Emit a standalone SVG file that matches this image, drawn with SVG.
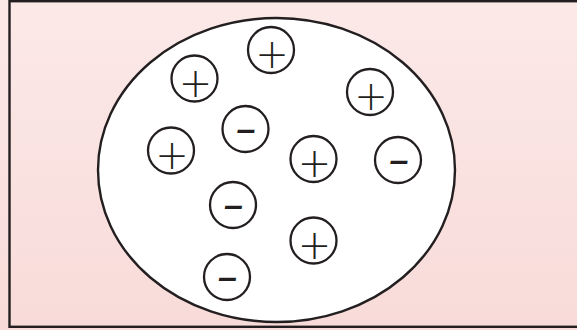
<svg xmlns="http://www.w3.org/2000/svg" width="577" height="330" viewBox="0 0 577 330">
<defs>
<linearGradient id="bg" x1="0" y1="0" x2="0" y2="1">
<stop offset="0" stop-color="#fbe9e8"/>
<stop offset="1" stop-color="#f8dbd9"/>
</linearGradient>
</defs>
<style>
.ion{fill:#fff;stroke:#231f20;stroke-width:2.3}
.p{font-family:"DejaVu Sans",sans-serif;font-weight:200;font-size:40px;fill:#231f20;text-anchor:middle}
.m{font-family:"Liberation Sans",sans-serif;font-weight:bold;font-style:italic;font-size:34px;fill:#231f20;text-anchor:middle}
</style>
<rect x="0" y="0" width="577" height="330" fill="url(#bg)"/>
<rect id="box" x="9.5" y="1.2" width="600" height="325.6" fill="none" stroke="#231f20" stroke-width="2.4"/>
<ellipse id="cell" cx="276.5" cy="170" rx="178.5" ry="152" fill="#fff" stroke="#231f20" stroke-width="2.4"/>
<g id="p1"><circle class="ion" cx="271" cy="50" r="23"/><text class="p" x="272" y="68">+</text></g>
<g id="p2"><circle class="ion" cx="194.5" cy="78.5" r="23"/><text class="p" x="195.5" y="96.5">+</text></g>
<g id="p3"><circle class="ion" cx="370" cy="92" r="23"/><text class="p" x="371" y="110">+</text></g>
<g id="m1"><circle class="ion" cx="245.5" cy="129" r="23"/><text class="m" x="246" y="140">–</text></g>
<g id="p4"><circle class="ion" cx="171" cy="150.5" r="23"/><text class="p" x="172" y="168.5">+</text></g>
<g id="p5"><circle class="ion" cx="313.5" cy="159" r="23"/><text class="p" x="314.5" y="177">+</text></g>
<g id="m2"><circle class="ion" cx="398" cy="160" r="23"/><text class="m" x="399" y="171">–</text></g>
<g id="m3"><circle class="ion" cx="233" cy="205" r="23"/><text class="m" x="233.5" y="216">–</text></g>
<g id="p6"><circle class="ion" cx="313.5" cy="240.5" r="23"/><text class="p" x="314.5" y="258.5">+</text></g>
<g id="m4"><circle class="ion" cx="227" cy="277" r="23"/><text class="m" x="227.5" y="288">–</text></g>
</svg>
